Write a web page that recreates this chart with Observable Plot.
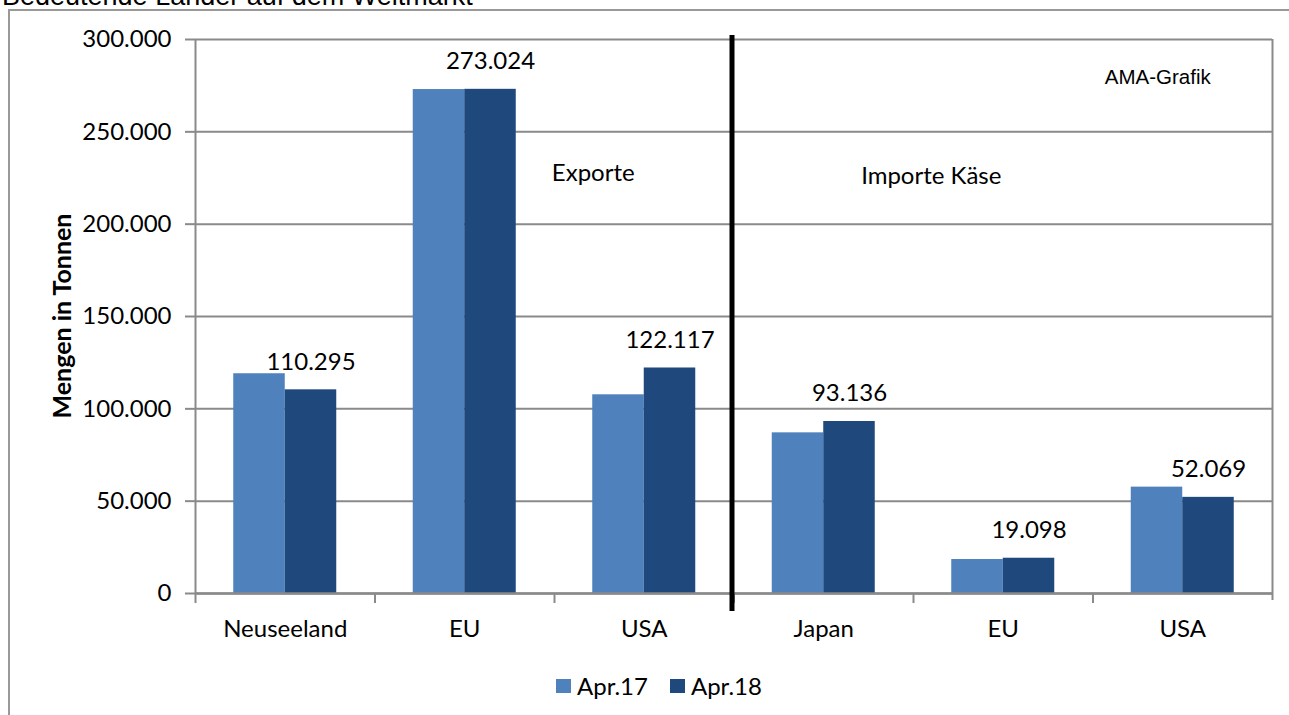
<!DOCTYPE html>
<html>
<head>
<meta charset="utf-8">
<script src="https://cdn.jsdelivr.net/npm/d3@7"></script>
<script src="https://cdn.jsdelivr.net/npm/@observablehq/plot@0.6"></script>
<style>
  html, body { margin: 0; padding: 0; background: #fff; }
  #wrap { position: relative; width: 1289px; height: 715px; overflow: hidden; background: #fff; }
  #title { position: absolute; left: 2px; top: -17px; font: 27px/27px "Liberation Sans", Arial, sans-serif; color: #000; white-space: nowrap; }
  #frame { position: absolute; left: 8px; top: 9px; width: 1300px; height: 720px; border-left: 2px solid #999; border-top: 2px solid #999; }
  #chart { position: absolute; left: 0; top: 0; }
  #ylabel { position: absolute; left: 61px; top: 316px; transform: translate(-50%, -50%) rotate(-90deg); font: bold 25px Lato, sans-serif; white-space: nowrap; }
  #legend { position: absolute; top: 671px; left: 556px; font: 24px Lato, sans-serif; display: flex; align-items: center; white-space: nowrap; }
  #legend .sw { width: 15px; height: 14px; display: inline-block; margin-right: 6px; }
  #legend .item { display: flex; align-items: center; margin-right: 22px; }
</style>
</head>
<body>
<div id="wrap">
  <div id="frame"></div>
  <div id="title">Bedeutende Länder auf dem Weltmarkt</div>
  <div id="chart"></div>
  <div id="ylabel">Mengen in Tonnen</div>
  <div id="legend"></div>
</div>
<script>
// ---- data ----
const groups = ["Exporte", "Exporte", "Exporte", "Importe", "Importe", "Importe"];
const countries = ["Neuseeland", "EU", "USA", "Japan", "EU", "USA"];
const apr17 = [119000, 272900, 107600, 87000, 18400, 57600];
const apr18 = [110295, 273024, 122117, 93136, 19098, 52069];
const seriesNames = ["Apr.17", "Apr.18"];
const seriesColors = ["#4f81bd", "#1f497d"];
const yTicks = [0, 50000, 100000, 150000, 200000, 250000, 300000];
const annotations = ["Exporte", "Importe Käse", "AMA-Grafik"];
const annotationY = [227400, 225800, 279400];

// ---- build ----
const keys = countries.map((c, i) => groups[i] + ":" + c);
const rows = keys.map((k, i) => ({key: k, apr17: apr17[i], apr18: apr18[i]}));
const de = d3.formatLocale({decimal: ",", thousands: ".", grouping: [3], currency: ["", " €"]});
const fmt = de.format(",d");

const W = 1289, ML = 195, MR = 17;
const bw = (W - ML - MR) / keys.length;   // band width
const barW = 51.5;
const gap = (bw - 2 * barW) / 2;
const half = bw / 2;
const grid = "#8a8a8a";
const calibri = "Lato, sans-serif";
const FS = 24;

const plot = Plot.plot({
  width: W,
  height: 715,
  marginLeft: ML,
  marginRight: MR,
  marginTop: 39,
  marginBottom: 122,
  style: {fontFamily: calibri, fontSize: FS + "px", color: "#000", background: "transparent"},
  x: {domain: keys, padding: 0, round: false},
  y: {domain: [0, 300000]},
  marks: [
    Plot.ruleY(yTicks, {stroke: grid, strokeWidth: 2}),
    Plot.barY(rows, {x: "key", y: "apr17", fill: seriesColors[0], insetLeft: gap, insetRight: gap + barW}),
    Plot.barY(rows, {x: "key", y: "apr18", fill: seriesColors[1], insetLeft: gap + barW, insetRight: gap}),
    Plot.text(rows, {x: "key", y: "apr18", text: d => fmt(d.apr18), dx: barW / 2, dy: -28, fontSize: FS, fill: "#000"}),
    Plot.ruleY([0], {stroke: grid, strokeWidth: 2.5}),
    // y-axis line
    Plot.ruleX([keys[0]], {dx: -half, y1: 300000, y2: 0, stroke: grid, strokeWidth: 2}),
    // right border of plot area
    Plot.ruleX([keys[keys.length - 1]], {dx: half, y1: 300000, y2: 0, insetBottom: -7, stroke: grid, strokeWidth: 2}),
    // category boundary ticks
    Plot.ruleX(keys, {dx: -half, y1: 0, y2: 0, insetBottom: -10, stroke: grid, strokeWidth: 2}),
    // divider exports / imports
    Plot.ruleX([keys[2]], {dx: half - 2, y1: 300000, y2: 0, insetTop: -4, insetBottom: -18, stroke: "#000", strokeWidth: 5}),
    Plot.text([annotations[0]], {x: [keys[2]], y: [annotationY[0]], text: d => d, dx: -51, fontSize: FS, fill: "#000"}),
    Plot.text([annotations[1]], {x: [keys[4]], y: [annotationY[1]], text: d => d, dx: -72, fontSize: FS, fill: "#000"}),
    Plot.text([annotations[2]], {x: [keys[5]], y: [annotationY[2]], text: d => d, dx: -25, fontSize: 20.5, fontFamily: "Liberation Sans, Arial, sans-serif", fill: "#000"}),
    Plot.axisY({ticks: yTicks, tickFormat: d => fmt(d), tickSize: 10, tickPadding: 14, stroke: grid, strokeWidth: 2, fill: "#000", label: null, fontSize: FS}),
    Plot.axisX({tickSize: 0, tickPadding: 26, tickFormat: k => k.split(":")[1], label: null, fill: "#000", fontSize: FS})
  ]
});
document.getElementById("chart").appendChild(plot);

const legend = document.getElementById("legend");
seriesNames.forEach((n, i) => {
  const it = document.createElement("div");
  it.className = "item";
  const sw = document.createElement("span");
  sw.className = "sw";
  sw.style.background = seriesColors[i];
  it.appendChild(sw);
  it.appendChild(document.createTextNode(n));
  legend.appendChild(it);
});
</script>
</body>
</html>
